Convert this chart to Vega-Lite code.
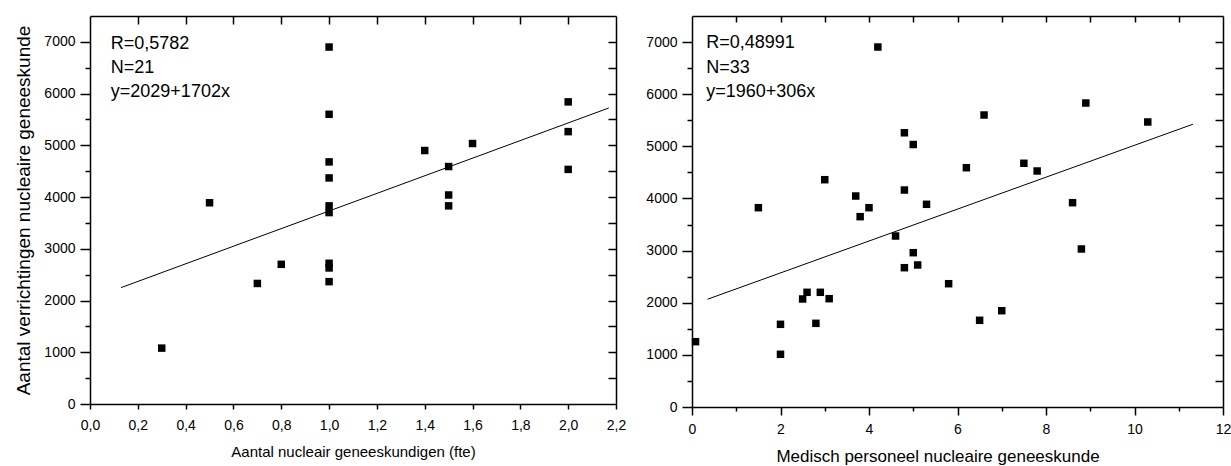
{
  "$schema": "https://vega.github.io/schema/vega-lite/v6.json",
  "padding": {"left": 14, "top": 15, "right": 5, "bottom": 5},
  "background": "white",
  "config": {
    "view": {"stroke": null},
    "font": "Liberation Sans",
    "axis": {
      "labelFont": "Liberation Sans",
      "titleFont": "Liberation Sans",
      "labelFontSize": 14,
      "labelColor": "black",
      "titleColor": "black",
      "titleFontWeight": "normal",
      "domainColor": "black",
      "tickColor": "black",
      "domainWidth": 1.5,
      "tickWidth": 1.5,
      "grid": false,
      "labelFlush": false,
      "labelOverlap": false,
      "labelBound": false
    }
  },
  "datasets": {
    "left": [
      {"fte": 1.0, "verrichtingen": 6900},
      {"fte": 1.0, "verrichtingen": 5600},
      {"fte": 1.0, "verrichtingen": 4680},
      {"fte": 1.0, "verrichtingen": 4370},
      {"fte": 1.0, "verrichtingen": 3830},
      {"fte": 1.0, "verrichtingen": 3700},
      {"fte": 1.0, "verrichtingen": 2720},
      {"fte": 1.0, "verrichtingen": 2630},
      {"fte": 1.0, "verrichtingen": 2365},
      {"fte": 0.5, "verrichtingen": 3890},
      {"fte": 0.8, "verrichtingen": 2700},
      {"fte": 0.7, "verrichtingen": 2330},
      {"fte": 0.3, "verrichtingen": 1080},
      {"fte": 1.4, "verrichtingen": 4900},
      {"fte": 1.5, "verrichtingen": 4590},
      {"fte": 1.5, "verrichtingen": 4040},
      {"fte": 1.5, "verrichtingen": 3830},
      {"fte": 1.6, "verrichtingen": 5035},
      {"fte": 2.0, "verrichtingen": 5840},
      {"fte": 2.0, "verrichtingen": 5265},
      {"fte": 2.0, "verrichtingen": 4535}
    ],
    "leftFit": [
      {"fte": 0.13, "verrichtingen": 2250},
      {"fte": 2.17, "verrichtingen": 5722}
    ],
    "leftStats": [
      {"x": 0.087, "y": 6967, "label": "R=0,5782"},
      {"x": 0.087, "y": 6500, "label": "N=21"},
      {"x": 0.087, "y": 6029, "label": "y=2029+1702x"}
    ],
    "right": [
      {"personeel": 4.2, "verrichtingen": 6905},
      {"personeel": 4.8, "verrichtingen": 5260},
      {"personeel": 5.0, "verrichtingen": 5035},
      {"personeel": 6.2, "verrichtingen": 4590},
      {"personeel": 3.0, "verrichtingen": 4360},
      {"personeel": 3.7, "verrichtingen": 4047},
      {"personeel": 4.8, "verrichtingen": 4162},
      {"personeel": 4.0, "verrichtingen": 3823},
      {"personeel": 3.8, "verrichtingen": 3651},
      {"personeel": 1.5, "verrichtingen": 3823},
      {"personeel": 5.3, "verrichtingen": 3888},
      {"personeel": 4.6, "verrichtingen": 3280},
      {"personeel": 5.0, "verrichtingen": 2960},
      {"personeel": 4.8, "verrichtingen": 2672},
      {"personeel": 5.1, "verrichtingen": 2724},
      {"personeel": 5.8, "verrichtingen": 2365},
      {"personeel": 2.5, "verrichtingen": 2072},
      {"personeel": 2.6, "verrichtingen": 2200},
      {"personeel": 2.9, "verrichtingen": 2200},
      {"personeel": 3.1, "verrichtingen": 2078},
      {"personeel": 2.0, "verrichtingen": 1586},
      {"personeel": 2.8, "verrichtingen": 1605},
      {"personeel": 2.0, "verrichtingen": 1011},
      {"personeel": 0.08, "verrichtingen": 1253},
      {"personeel": 6.6, "verrichtingen": 5601},
      {"personeel": 8.9, "verrichtingen": 5831},
      {"personeel": 10.3, "verrichtingen": 5467},
      {"personeel": 7.5, "verrichtingen": 4675},
      {"personeel": 7.8, "verrichtingen": 4527},
      {"personeel": 8.6, "verrichtingen": 3919},
      {"personeel": 8.8, "verrichtingen": 3031},
      {"personeel": 7.0, "verrichtingen": 1847},
      {"personeel": 6.5, "verrichtingen": 1663}
    ],
    "rightFit": [
      {"personeel": 0.35, "verrichtingen": 2067},
      {"personeel": 11.32, "verrichtingen": 5424}
    ],
    "rightStats": [
      {"x": 0.32, "y": 6973, "label": "R=0,48991"},
      {"x": 0.32, "y": 6509, "label": "N=33"},
      {"x": 0.32, "y": 6042, "label": "y=1960+306x"}
    ]
  },
  "spacing": 19,
  "hconcat": [
    {
      "width": 526,
      "height": 388,
      "layer": [
        {
          "data": {"name": "left"},
          "mark": {"type": "point", "shape": "square", "filled": true, "size": 56, "color": "black", "opacity": 1},
          "encoding": {
            "x": {
              "field": "fte", "type": "quantitative",
              "scale": {"domain": [0, 2.2], "nice": false, "zero": false},
              "axis": {
                "orient": "bottom",
                "title": "Aantal nucleair geneeskundigen (fte)",
                "titleFontSize": 15,
                "titlePadding": 12,
                "values": [0, 0.2, 0.4, 0.6, 0.8, 1, 1.2, 1.4, 1.6, 1.8, 2, 2.2],
                "labelExpr": "replace(format(datum.value, '.1f'), '.', ',')",
                "tickSize": 5,
                "labelPadding": 9
              }
            },
            "y": {
              "field": "verrichtingen", "type": "quantitative",
              "scale": {"domain": [0, 7500], "nice": false},
              "axis": {
                "orient": "left",
                "title": "Aantal verrichtingen nucleaire geneeskunde",
                "titleFontSize": 19,
                "titlePadding": 10,
                "values": [0, 500, 1000, 1500, 2000, 2500, 3000, 3500, 4000, 4500, 5000, 5500, 6000, 6500, 7000],
                "labelExpr": "datum.value % 1000 === 0 ? format(datum.value, 'd') : ''",
                "tickSize": {"condition": {"test": "datum.value % 1000 !== 0", "value": 5}, "value": 10},
                "labelPadding": 5
              }
            }
          }
        },
        {
          "data": {"name": "leftFit"},
          "mark": {"type": "line", "color": "black", "strokeWidth": 1},
          "encoding": {
            "x": {
              "field": "fte", "type": "quantitative",
              "axis": {"orient": "top", "title": null, "labels": false, "tickSize": -8,
                "values": [0.2, 0.4, 0.6, 0.8, 1, 1.2, 1.4, 1.6, 1.8, 2]}
            },
            "y": {
              "field": "verrichtingen", "type": "quantitative",
              "axis": {"orient": "right", "title": null, "labels": false, "tickSize": -8,
                "values": [500, 1000, 1500, 2000, 2500, 3000, 3500, 4000, 4500, 5000, 5500, 6000, 6500, 7000]}
            }
          }
        },
        {
          "data": {"name": "leftStats"},
          "mark": {"type": "text", "align": "left", "baseline": "middle", "fontSize": 18, "font": "Liberation Sans", "color": "black"},
          "encoding": {
            "x": {"field": "x", "type": "quantitative", "axis": null},
            "y": {"field": "y", "type": "quantitative", "axis": null},
            "text": {"field": "label", "type": "nominal"}
          }
        }
      ]
    },
    {
      "width": 531,
      "height": 391,
      "layer": [
        {
          "data": {"name": "right"},
          "mark": {"type": "point", "shape": "square", "filled": true, "size": 56, "color": "black", "opacity": 1},
          "encoding": {
            "x": {
              "field": "personeel", "type": "quantitative",
              "scale": {"domain": [0, 12], "nice": false, "zero": false},
              "axis": {
                "orient": "bottom",
                "title": "Medisch personeel nucleaire geneeskunde",
                "titleFontSize": 17,
                "titlePadding": 12,
                "titleX": 245.5,
                "values": [0, 1, 2, 3, 4, 5, 6, 7, 8, 9, 10, 11, 12],
                "labelExpr": "datum.value % 2 === 0 ? format(datum.value, 'd') : ''",
                "tickSize": {"condition": {"test": "datum.value % 2 !== 0", "value": 4}, "value": 8},
                "labelPadding": 7
              }
            },
            "y": {
              "field": "verrichtingen", "type": "quantitative",
              "scale": {"domain": [0, 7500], "nice": false},
              "axis": {
                "orient": "left",
                "title": null,
                "values": [0, 500, 1000, 1500, 2000, 2500, 3000, 3500, 4000, 4500, 5000, 5500, 6000, 6500, 7000],
                "labelExpr": "datum.value % 1000 === 0 ? format(datum.value, 'd') : ''",
                "tickSize": {"condition": {"test": "datum.value % 1000 !== 0", "value": 5}, "value": 10},
                "labelPadding": 5
              }
            }
          }
        },
        {
          "data": {"name": "rightFit"},
          "mark": {"type": "line", "color": "black", "strokeWidth": 1},
          "encoding": {
            "x": {
              "field": "personeel", "type": "quantitative",
              "axis": {"orient": "top", "title": null, "labels": false, "tickSize": -6,
                "values": [1, 2, 3, 4, 5, 6, 7, 8, 9, 10, 11]}
            },
            "y": {
              "field": "verrichtingen", "type": "quantitative",
              "axis": {"orient": "right", "title": null, "labels": false, "tickSize": -8,
                "values": [500, 1000, 1500, 2000, 2500, 3000, 3500, 4000, 4500, 5000, 5500, 6000, 6500, 7000]}
            }
          }
        },
        {
          "data": {"name": "rightStats"},
          "mark": {"type": "text", "align": "left", "baseline": "middle", "fontSize": 18, "font": "Liberation Sans", "color": "black"},
          "encoding": {
            "x": {"field": "x", "type": "quantitative", "axis": null},
            "y": {"field": "y", "type": "quantitative", "axis": null},
            "text": {"field": "label", "type": "nominal"}
          }
        }
      ]
    }
  ]
}
